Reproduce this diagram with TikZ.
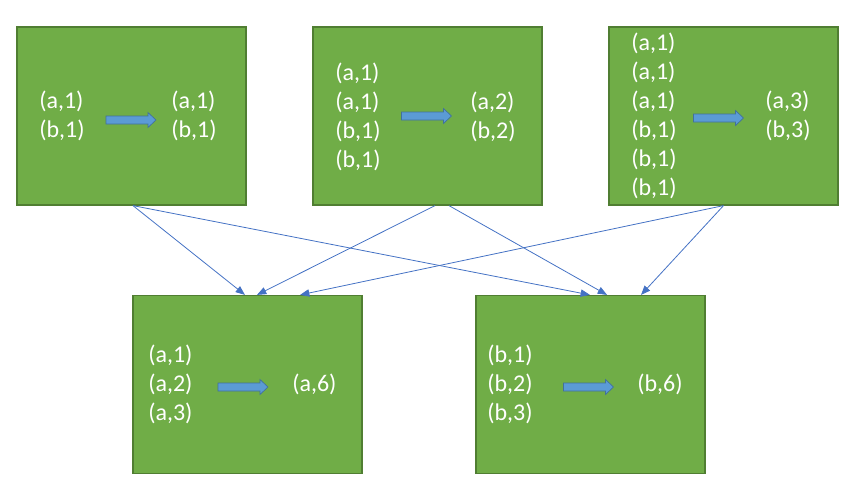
\documentclass[tikz,border=0pt]{standalone}
\usepackage{fontspec}
\setmainfont{Carlito}
\usetikzlibrary{arrows.meta}
\definecolor{boxgreen}{HTML}{70AD47}
\definecolor{boxedge}{HTML}{507E32}
\definecolor{linkblue}{HTML}{4472C4}
\definecolor{fatfill}{HTML}{5B9BD5}
\definecolor{fatedge}{HTML}{41719C}
\tikzset{
  task/.style={draw=boxedge,fill=boxgreen,line width=0.9pt,
    minimum width=171.75pt,minimum height=133.5pt,inner sep=0pt},
  pairs/.style={anchor=west,align=left,text=white,inner sep=0pt,
    font=\fontsize{18}{21.75}\selectfont},
  link/.style={draw=linkblue,line width=0.6pt,
    -{Triangle[length=7pt,width=5.5pt]}},
  pics/fatarrow/.style={code={
    \draw[fill=fatfill,draw=fatedge,line width=0.5pt]
      (-25,4)--(17,4)--(17,7.5)--(25,0)--(17,-7.5)--(17,-4)--(-25,-4)--cycle;}}
}
\begin{document}
\begin{tikzpicture}[x=0.75pt,y=-0.75pt]
  \useasboundingbox (0,0) rectangle (861,494);
  % map side
  \node[task] (m1) at (131.5,116) {};
  \node[task] (m2) at (427.5,116) {};
  \node[task] (m3) at (723.5,116) {};
  % reduce side
  \node[task] (r1) at (247.5,384.5) {};
  \node[task] (r2) at (590.5,384.5) {};

  \node[pairs] (m1in)  at (39,116)  {(a,1)\\(b,1)};
  \node[pairs] (m1out) at (171,116) {(a,1)\\(b,1)};
  \node[pairs] (m2in)  at (335,117) {(a,1)\\(a,1)\\(b,1)\\(b,1)};
  \node[pairs] (m2out) at (470,117) {(a,2)\\(b,2)};
  \node[pairs] (m3in)  at (631,116) {(a,1)\\(a,1)\\(a,1)\\(b,1)\\(b,1)\\(b,1)};
  \node[pairs] (m3out) at (765,116) {(a,3)\\(b,3)};
  \node[pairs] (r1in)  at (148,384.5) {(a,1)\\(a,2)\\(a,3)};
  \node[pairs] (r1out) at (292,384.5) {(a,6)};
  \node[pairs] (r2in)  at (487,384.5) {(b,1)\\(b,2)\\(b,3)};
  \node[pairs] (r2out) at (637,384.5) {(b,6)};

  \pic at (131,120) {fatarrow};
  \pic at (426.5,116) {fatarrow};
  \pic at (718.5,118) {fatarrow};
  \pic at (243,387) {fatarrow};
  \pic at (588.5,387) {fatarrow};

  % shuffle
  \draw[link] ([xshift=1.1pt]m1.south) -- ([xshift=-1.9pt]r1.north);
  \draw[link] ([xshift=1.1pt]m1.south) -- ([xshift=-0.4pt]r2.north);
  \draw[link] ([xshift=5.6pt]m2.south) -- ([xshift=7.1pt]r1.north);
  \draw[link] ([xshift=16.1pt]m2.south) -- ([xshift=12.4pt]r2.north);
  \draw[link] (m3.south) -- ([xshift=39.4pt]r1.north);
  \draw[link] (m3.south) -- ([xshift=37.9pt]r2.north);
\end{tikzpicture}
\end{document}
